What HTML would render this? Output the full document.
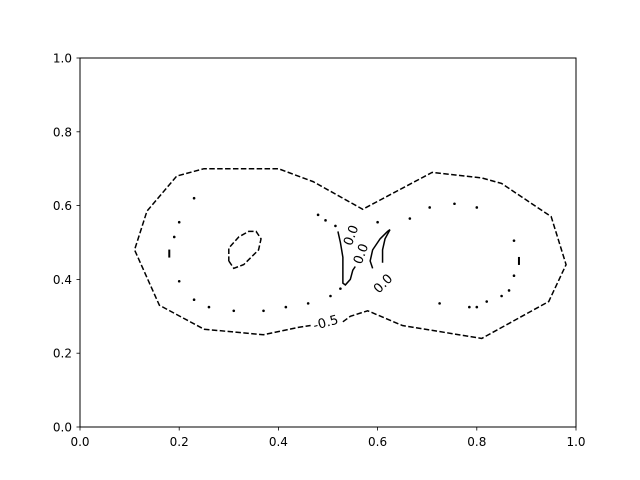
<!DOCTYPE html>
<html><head><meta charset="utf-8"><style>
body{margin:0;background:#fff}
svg{display:block;font-family:"DejaVu Sans","Liberation Sans",sans-serif}
</style></head><body>
<svg id="chart" width="640" height="480" viewBox="0 0 640 480">
<rect x="0" y="0" width="640" height="480" fill="#fff"/>
<g id="plot"></g>
<rect x="80" y="58" width="496" height="369" fill="none" stroke="#000" stroke-width="1"/>
<g id="axes"></g>
</svg>
<script>
const xTicks=[0.0,0.2,0.4,0.6,0.8,1.0];
const yTicks=[0.0,0.2,0.4,0.6,0.8,1.0];
const outerContour=[[0.53,0.285],[0.545,0.30],[0.58,0.315],[0.65,0.275],[0.81,0.24],[0.945,0.34],[0.98,0.44],[0.95,0.57],[0.85,0.66],[0.81,0.675],[0.71,0.69],[0.57,0.59],[0.47,0.665],[0.40,0.70],[0.25,0.70],[0.195,0.68],[0.135,0.585],[0.11,0.48],[0.16,0.33],[0.25,0.265],[0.37,0.25],[0.44,0.27],[0.465,0.275]];
const innerEllipse=[[0.30,0.45],[0.31,0.43],[0.33,0.44],[0.36,0.48],[0.365,0.51],[0.355,0.53],[0.34,0.53],[0.32,0.515],[0.30,0.485],[0.30,0.45]];
const zeroLeft=[[0.52,0.53],[0.525,0.50],[0.53,0.46],[0.53,0.39],[0.535,0.385],[0.545,0.40],[0.55,0.425],[0.555,0.435]];
const zeroRight1=[[0.59,0.43],[0.585,0.45],[0.59,0.48],[0.605,0.51],[0.62,0.53],[0.625,0.535]];
const zeroRight2=[[0.625,0.535],[0.615,0.51],[0.61,0.48],[0.61,0.445]];
const dotsX=[0.23,0.20,0.19,0.20,0.23,0.26,0.31,0.37,0.415,0.46,0.505,0.525,0.48,0.495,0.515,0.60,0.665,0.705,0.755,0.80,0.875,0.875,0.865,0.85,0.82,0.785,0.80,0.725];
const dotsY=[0.62,0.555,0.515,0.395,0.345,0.325,0.315,0.315,0.325,0.335,0.355,0.375,0.575,0.56,0.545,0.555,0.565,0.595,0.605,0.595,0.505,0.41,0.37,0.355,0.34,0.325,0.325,0.335];
const dashX=[0.18,0.885];
const dashY=[0.47,0.45];
const labels=["-0.5","0.0","0.0","0.0"];
const labelX=[0.495,0.545,0.565,0.61];
const labelY=[0.285,0.52,0.47,0.39];
const labelRot=[-15,-70,-70,-45];

const NS="http://www.w3.org/2000/svg";
const sx=v=>80+496*v, sy=v=>427-369*v;
const plot=document.getElementById('plot'), axes=document.getElementById('axes');
function mk(t,a,p){const e=document.createElementNS(NS,t);for(const k in a)e.setAttribute(k,a[k]);p.appendChild(e);return e;}
function line(pts,dash,name){
  const e=mk('polyline',{points:pts.map(p=>sx(p[0])+','+sy(p[1])).join(' '),fill:'none',stroke:'#000','stroke-width':1.5,'stroke-dasharray':dash},plot);
  
  
}
line(outerContour,'5.5,2.4','contour-minus-0.5');
line(innerEllipse,'5.5,2.4','contour-inner-ellipse');
line(zeroLeft,'none','contour-zero-left');
line(zeroRight1,'none','contour-zero-right');
line(zeroRight2,'none','contour-zero-right-2');
dotsX.forEach((x,i)=>{
  const e=mk('circle',{cx:sx(x),cy:sy(dotsY[i]),r:1.3,fill:'#000'},plot);
  
  
});
dashX.forEach((x,i)=>{
  const e=mk('line',{x1:sx(x),x2:sx(x),y1:sy(dashY[i])-4,y2:sy(dashY[i])+4,stroke:'#000','stroke-width':2},plot);
  
  
});
labels.forEach((t,i)=>{
  const x=sx(labelX[i]),y=sy(labelY[i]);
  const e=mk('text',{x:x,y:y+5,'font-size':13,'text-anchor':'middle',transform:`rotate(${labelRot[i]} ${x} ${y})`},plot);
  e.textContent=t;
  
  
});
xTicks.forEach(v=>{
  const x=sx(v);
  const l=mk('line',{x1:x,x2:x,y1:427,y2:430.5,stroke:'#000','stroke-width':0.8},axes);
  
  
  const t=mk('text',{x:x,y:446,'font-size':12,'text-anchor':'middle'},axes);
  t.textContent=v.toFixed(1);
  
  
});
yTicks.forEach(v=>{
  const y=sy(v);
  const l=mk('line',{x1:76.5,x2:80,y1:y,y2:y,stroke:'#000','stroke-width':0.8},axes);
  
  
  const t=mk('text',{x:72,y:y+4.5,'font-size':12,'text-anchor':'end'},axes);
  t.textContent=v.toFixed(1);
  
  
});
</script>
</body></html>
